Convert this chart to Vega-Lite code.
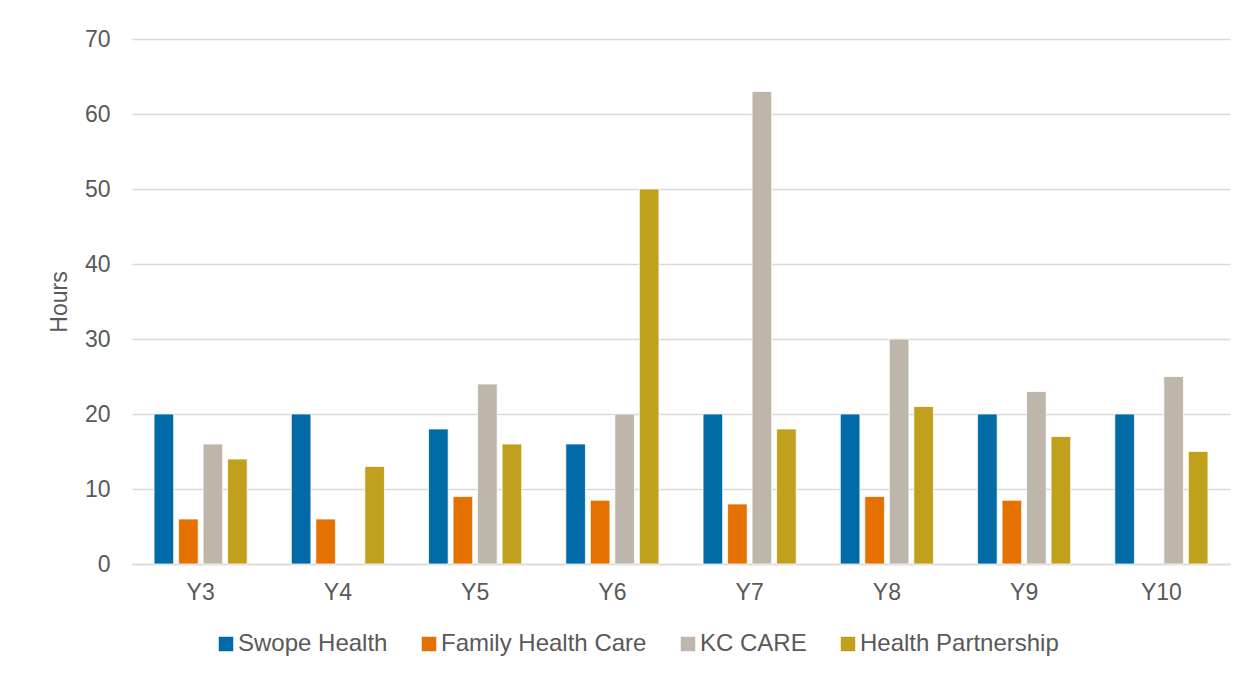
{
  "$schema": "https://vega.github.io/schema/vega-lite/v6.json",
  "autosize": {"type": "none"},
  "width": 1098,
  "height": 525,
  "padding": {"left": 132, "top": 39, "right": 18, "bottom": 111},
  "background": "white",
  "config": {
    "font": "Liberation Sans",
    "view": {"stroke": null},
    "axis": {"labelColor": "#595959", "titleColor": "#595959", "labelFont": "Liberation Sans", "titleFont": "Liberation Sans"},
    "legend": {"labelFont": "Liberation Sans"}
  },
  "data": {
    "values": [
      {"year": "Y3", "org": "Swope Health", "hours": 20},
      {"year": "Y3", "org": "Family Health Care", "hours": 6},
      {"year": "Y3", "org": "KC CARE", "hours": 16},
      {"year": "Y3", "org": "Health Partnership", "hours": 14},
      {"year": "Y4", "org": "Swope Health", "hours": 20},
      {"year": "Y4", "org": "Family Health Care", "hours": 6},
      {"year": "Y4", "org": "Health Partnership", "hours": 13},
      {"year": "Y5", "org": "Swope Health", "hours": 18},
      {"year": "Y5", "org": "Family Health Care", "hours": 9},
      {"year": "Y5", "org": "KC CARE", "hours": 24},
      {"year": "Y5", "org": "Health Partnership", "hours": 16},
      {"year": "Y6", "org": "Swope Health", "hours": 16},
      {"year": "Y6", "org": "Family Health Care", "hours": 8.5},
      {"year": "Y6", "org": "KC CARE", "hours": 20},
      {"year": "Y6", "org": "Health Partnership", "hours": 50},
      {"year": "Y7", "org": "Swope Health", "hours": 20},
      {"year": "Y7", "org": "Family Health Care", "hours": 8},
      {"year": "Y7", "org": "KC CARE", "hours": 63},
      {"year": "Y7", "org": "Health Partnership", "hours": 18},
      {"year": "Y8", "org": "Swope Health", "hours": 20},
      {"year": "Y8", "org": "Family Health Care", "hours": 9},
      {"year": "Y8", "org": "KC CARE", "hours": 30},
      {"year": "Y8", "org": "Health Partnership", "hours": 21},
      {"year": "Y9", "org": "Swope Health", "hours": 20},
      {"year": "Y9", "org": "Family Health Care", "hours": 8.5},
      {"year": "Y9", "org": "KC CARE", "hours": 23},
      {"year": "Y9", "org": "Health Partnership", "hours": 17},
      {"year": "Y10", "org": "Swope Health", "hours": 20},
      {"year": "Y10", "org": "KC CARE", "hours": 25},
      {"year": "Y10", "org": "Health Partnership", "hours": 15}
    ]
  },
  "mark": {"type": "bar", "stroke": "white", "strokeWidth": 0.75},
  "encoding": {
    "x": {
      "field": "year",
      "type": "nominal",
      "sort": ["Y3", "Y4", "Y5", "Y6", "Y7", "Y8", "Y9", "Y10"],
      "scale": {"paddingInner": 0, "paddingOuter": 0},
      "axis": {
        "title": null,
        "labelAngle": 0,
        "labelFontSize": 23,
        "labelPadding": 17,
        "ticks": false,
        "domainColor": "#D9D9D9",
        "domainWidth": 1.5
      }
    },
    "xOffset": {
      "field": "org",
      "type": "nominal",
      "sort": ["Swope Health", "Family Health Care", "KC CARE", "Health Partnership"],
      "scale": {"paddingInner": 0.2, "paddingOuter": 0.9}
    },
    "y": {
      "field": "hours",
      "type": "quantitative",
      "scale": {"domain": [0, 70]},
      "axis": {
        "title": "Hours",
        "titleFontSize": 23,
        "titleFontWeight": "normal",
        "titlePadding": 13,
        "labelFontSize": 23,
        "labelPadding": 22,
        "values": [0, 10, 20, 30, 40, 50, 60, 70],
        "ticks": false,
        "domain": false,
        "gridColor": "#D9D9D9",
        "gridWidth": 1.5
      }
    },
    "color": {
      "field": "org",
      "type": "nominal",
      "sort": ["Swope Health", "Family Health Care", "KC CARE", "Health Partnership"],
      "scale": {
        "domain": ["Swope Health", "Family Health Care", "KC CARE", "Health Partnership"],
        "range": ["#006BA6", "#E57200", "#BFB6AB", "#C1A01E"]
      },
      "legend": {
        "title": null,
        "orient": "none",
        "direction": "horizontal",
        "legendX": 82,
        "legendY": 593,
        "symbolType": "square",
        "symbolSize": 210,
        "symbolStrokeWidth": 0,
        "labelFontSize": 24,
        "labelLimit": 500,
        "labelColor": "#595959",
        "labelOffset": 0,
        "columnPadding": 29
      }
    }
  }
}
